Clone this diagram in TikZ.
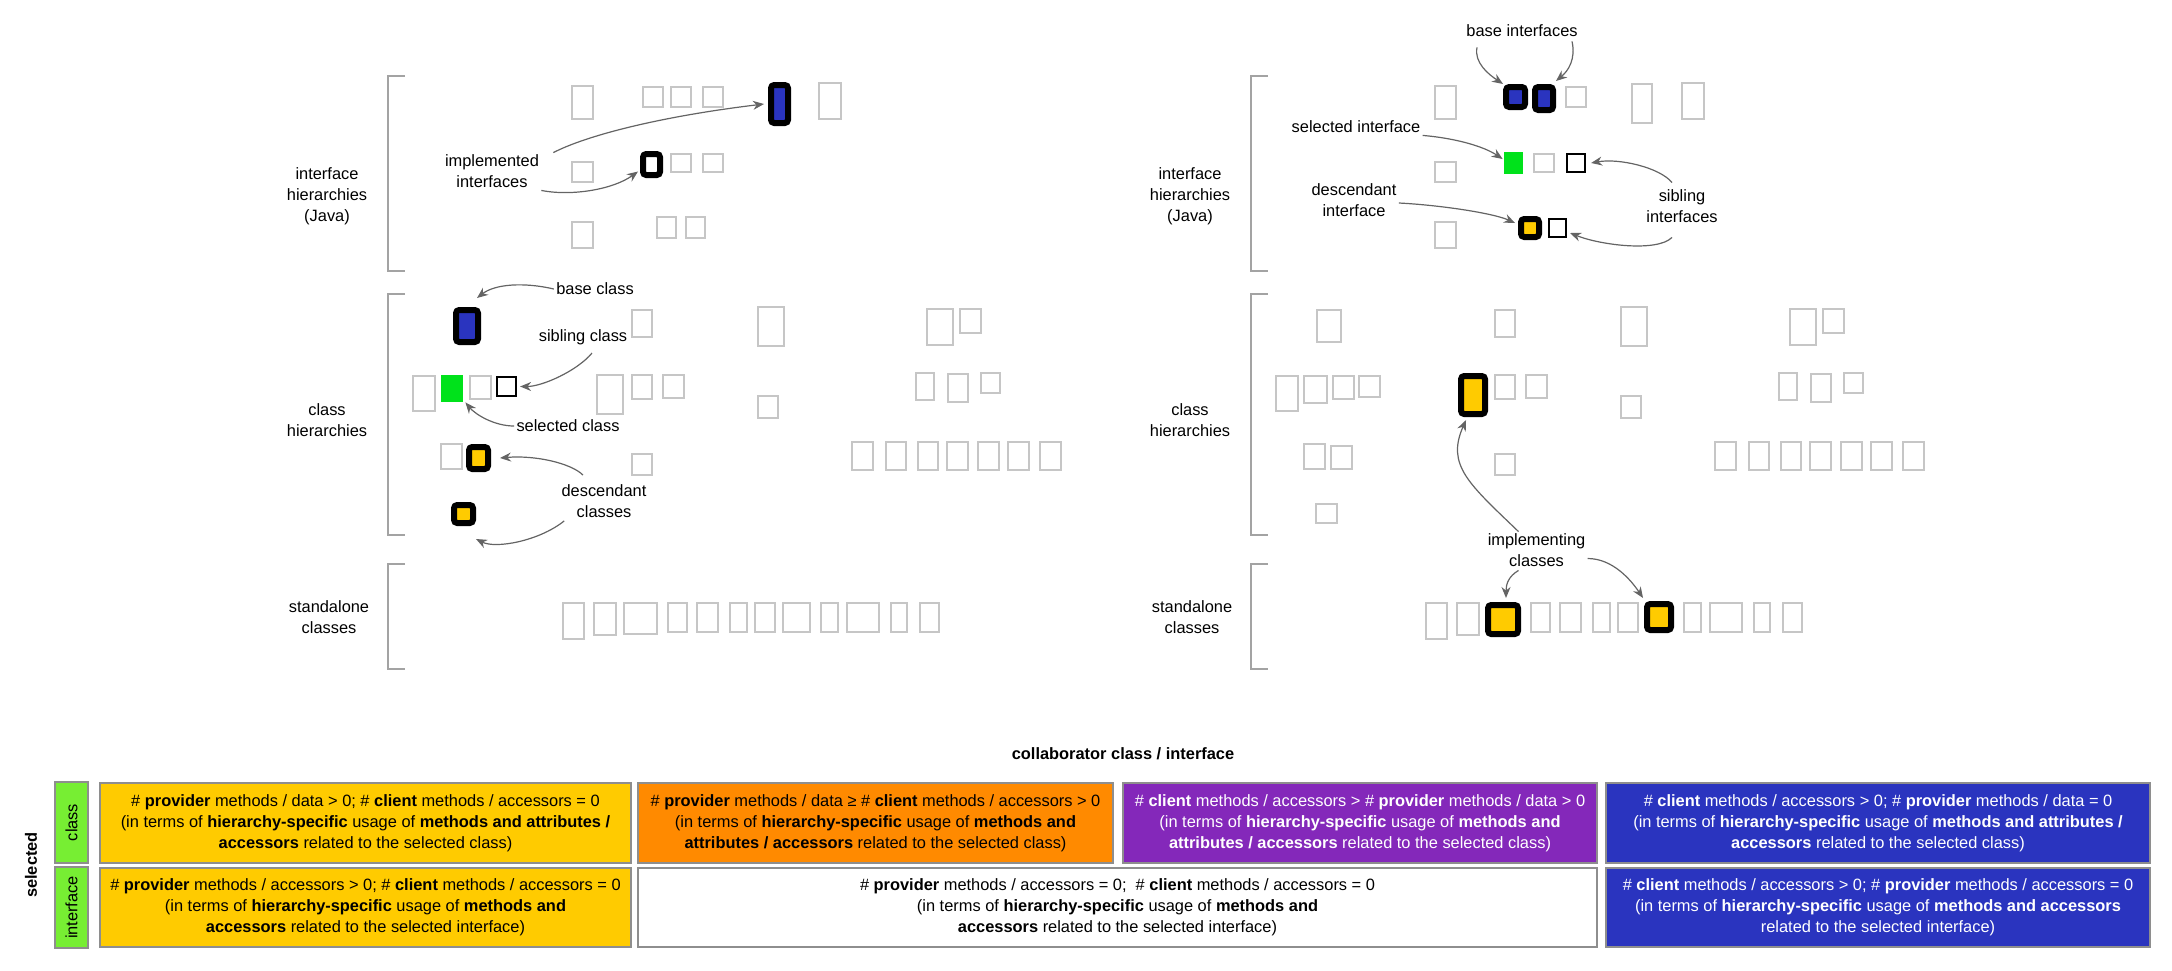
\documentclass[tikz,border=0pt]{standalone}
\usepackage{fontspec}
\setmainfont{Liberation Sans}
\usetikzlibrary{arrows.meta,calc}
\definecolor{boxgray}{HTML}{C6C6C6}
\definecolor{brackgray}{HTML}{A3A3A3}
\definecolor{arrowgray}{HTML}{646464}
\definecolor{cellline}{HTML}{8E8E8E}
\definecolor{selgreen}{HTML}{00E21B}
\definecolor{labgreen}{HTML}{77EE33}
\definecolor{hiblue}{HTML}{2A34BF}
\definecolor{hiyellow}{HTML}{FFCB00}
\definecolor{hiorange}{HTML}{FF8A00}
\definecolor{hipurple}{HTML}{8428BA}

\tikzset{
  corners/.style n args={4}{at={({(#1+#3)/2},{(#2+#4)/2})},
    minimum width={(#3-#1)*0.5pt},minimum height={(#4-#2)*0.5pt}},
  gbox/.style={draw=boxgray,line width=1.1pt,inner sep=0pt},
  hbox/.style={draw=black,line width=3pt,rounded corners=1.6pt,inner sep=0pt},
  sbox/.style={draw=black,line width=1.1pt,fill=white,inner sep=0pt},
  gsel/.style={fill=selgreen,inner sep=0pt},
  lbl/.style={align=center,inner sep=1pt,font=\fontsize{8.2}{10.5}\selectfont},
  arr/.style={draw=arrowgray,line width=0.6pt,-{Stealth[length=5.5pt,width=4.5pt]}},
  bracket/.style={draw=brackgray,line width=1pt},
  cell/.style={draw=cellline,line width=1.1pt,inner sep=0pt,align=center,
    font=\fontsize{8.2}{10.5}\selectfont}
}

\begin{document}
\begin{tikzpicture}[x=0.5pt,y=-0.5pt]
  \useasboundingbox (0,0) rectangle (2172,970);

  % both panels share brackets, headings and most boxes
  \foreach \dx/\p in {0/l,863/r}{
    \begin{scope}[shift={(\dx,0)}]
      \draw[bracket] (405,76) -- (388,76) -- (388,271) -- (405,271);
      \draw[bracket] (405,294) -- (388,294) -- (388,535) -- (405,535);
      \draw[bracket] (405,564) -- (388,564) -- (388,669) -- (405,669);
      \node[lbl] (\p-ifh) at (327,196) {interface\\hierarchies\\(Java)};
      \node[lbl] (\p-clh) at (327,420) {class\\hierarchies};
      \node[lbl] (\p-sah) at (329,617) {standalone\\classes};
      \foreach \xa/\ya/\xb/\yb [count=\n] in {
          572/86/593/119, 703/87/723/107, 819/83/841/119, 572/162/593/182,
          671/154/691/172, 572/222/593/248,
          413/376/435/411, 470/376/491/399, 441/444/462/469, 632/310/652/337,
          632/375/652/399, 663/375/684/398, 632/454/652/475, 758/307/784/346,
          758/396/778/418, 927/309/953/345, 960/309/981/333, 916/373/934/400,
          948/374/968/402, 981/373/1000/393,
          852/442/873/470, 886/442/906/470, 918/442/938/470, 947/442/968/470,
          978/442/999/470, 1008/442/1029/470, 1040/442/1061/470,
          563/603/584/639, 594/603/616/635, 668/603/687/632, 697/603/718/632,
          730/603/747/632, 755/603/775/632, 821/603/838/632, 847/603/879/632,
          891/603/907/632, 920/603/939/632}
        \node[gbox,corners={\xa}{\ya}{\xb}{\yb}] (\p-g\n) {};
    \end{scope}
  }

  % left panel: selected class
  \foreach \xa/\ya/\xb/\yb [count=\n] in {
      643/87/663/107, 671/87/691/107, 703/154/723/172, 657/217/676/238,
      686/217/705/238, 597/375/623/414, 624/603/657/634, 783/603/810/632}
    \node[gbox,corners={\xa}{\ya}{\xb}{\yb}] (l-h\n) {};
  \node[hbox,fill=hiblue,corners={771}{85}{788}{123}] (implA) {};
  \node[hbox,fill=white,corners={643}{154}{660}{175}] (implB) {};
  \node[hbox,fill=hiblue,corners={456}{310}{478}{342}] (basecls) {};
  \node[gsel,corners={441}{375}{463}{402}] (selcls) {};
  \node[sbox,corners={497}{377}{516}{396}] (sibcls) {};
  \node[hbox,fill=hiyellow,corners={469}{447}{488}{469}] (desccA) {};
  \node[hbox,fill=hiyellow,corners={454}{505}{473}{523}] (desccB) {};

  \node[lbl] (limpl) at (492,171.5) {implemented\\interfaces};
  \node[lbl] (lbase) at (595,289) {base class};
  \node[lbl] (lsib) at (583,337) {sibling class};
  \node[lbl] (lsel) at (568,426) {selected class};
  \node[lbl] (ldesc) at (604,501) {descendant\\classes};

  \draw[arr] ($(limpl.north east)+(12,0)$) .. controls +(35,-18) and +(-100,12) .. ($(implA.west)+(-4,0)$);
  \draw[arr] (limpl.south east) .. controls +(30,6) and +(-25,18) .. ($(implB.west)+(-2,7)$);
  \draw[arr] (lbase.west) .. controls +(-30,-7) and +(18,-14) .. ($(basecls.north east)+(-4,-9)$);
  \draw[arr] ($(lsib.south)+(9,6)$) .. controls +(-15,18) and +(22,0) .. ($(sibcls.east)+(3,0)$);
  \draw[arr] (lsel.west) .. controls +(-20,0) and +(10,12) .. ($(selcls.south east)+(2,0)$);
  \draw[arr] ($(ldesc.north)+(-21,-7)$) .. controls +(-12,-12) and +(35,-3) .. ($(desccA.east)+(9,0)$);
  \draw[arr] ($(ldesc.south west)+(5,1)$) .. controls +(-25,20) and +(20,10) .. ($(desccB.south east)+(0,13)$);

  % right panel: selected interface
  \begin{scope}[shift={(863,0)}]
    \foreach \xa/\ya/\xb/\yb [count=\n] in {
        769/84/789/123, 454/310/478/342, 441/376/464/403, 496/376/517/397,
        468/446/489/469, 453/504/474/523}
      \node[gbox,corners={\xa}{\ya}{\xb}{\yb}] (r-h\n) {};
    \node[hbox,fill=hiblue,corners={643}{87}{662}{107}] (baseifA) {};
    \node[hbox,fill=hiblue,corners={672}{87}{690}{110}] (baseifB) {};
    \node[gsel,corners={641}{152}{660}{174}] (selif) {};
    \node[sbox,corners={704}{154}{722}{172}] (sibifA) {};
    \node[hbox,fill=hiyellow,corners={658}{219}{676}{237}] (descif) {};
    \node[sbox,corners={686}{219}{703}{237}] (sibifB) {};
    \node[hbox,fill=hiyellow,corners={598}{376}{622}{414}] (implclsA) {};
    \node[hbox,fill=hiyellow,corners={625}{605}{655}{634}] (implclsB) {};
    \node[hbox,fill=hiyellow,corners={784}{604}{808}{630}] (implclsC) {};

    \node[lbl] (lbaseif) at (659,31) {base interfaces};
    \node[lbl] (lselif) at (493,127) {selected interface};
    \node[lbl] (ldescif) at (491,200) {descendant\\interface};
    \node[lbl] (lsibif) at (819,206.5) {sibling\\interfaces};
    \node[lbl] (limplcls) at (673.5,550.5) {implementing\\classes};

    \draw[arr] ($(lbaseif.south west)+(13,8)$) .. controls +(-3,15) and +(-15,-10) .. (baseifA.north west);
    \draw[arr] ($(lbaseif.south east)+(-8,2)$) .. controls +(4,18) and +(12,-10) .. ($(baseifB.north east)+(0,-3)$);
    \draw[arr] (lselif.south east) .. controls +(35,3) and +(-18,-12) .. ($(selif.west)+(-1,-4)$);
    \draw[arr] ($(ldescif.east)+(0,3)$) .. controls +(40,2) and +(-22,-10) .. ($(descif.west)+(-3,-5)$);
    \draw[arr] ($(lsibif.north)+(-10,-5)$) .. controls +(-12,-15) and +(28,-5) .. ($(sibifA.east)+(5,0)$);
    \draw[arr] ($(lsibif.south)+(-10,12)$) .. controls +(-15,15) and +(30,12) .. ($(sibifB.east)+(3,5)$);
    \draw[arr] ($(limplcls.north)+(-18,0)$) .. controls +(-50,-48) and +(-20,45) .. ($(implclsA.south)+(-7,3)$);
    \draw[arr] ($(limplcls.south)+(-18,1)$) .. controls +(-10,6) and +(0,-14) .. ($(implclsB.north)+(3,-4)$);
    \draw[arr] ($(limplcls.east)+(0,8)$) .. controls +(25,0) and +(-12,-18) .. ($(implclsC.north west)+(-1,-3)$);
  \end{scope}

  % legend table
  \node[lbl] (colhead) at (1123,754) {\bfseries collaborator class / interface};
  \node[lbl,rotate=90] (selhead) at (31,865) {\bfseries selected};
  \node[cell,fill=labgreen,rotate=90,minimum width=40.5pt,minimum height=16.5pt] (rowcls) at (71.5,822.5) {class};
  \node[cell,fill=labgreen,rotate=90,minimum width=40.5pt,minimum height=16.5pt] (rowif) at (71.5,907.5) {interface};
  \node[cell,fill=hiyellow,corners={100}{783}{631}{863}] (cls-y)
    {\# \textbf{provider} methods / data > 0; \# \textbf{client} methods / accessors = 0\\
     (in terms of \textbf{hierarchy-specific} usage of \textbf{methods and attributes /}\\
     \textbf{accessors} related to the selected class)};
  \node[cell,fill=hiorange,corners={638}{783}{1113}{863}] (cls-o)
    {\# \textbf{provider} methods / data ≥ \# \textbf{client} methods / accessors > 0\\
     (in terms of \textbf{hierarchy-specific} usage of \textbf{methods and}\\
     \textbf{attributes / accessors} related to the selected class)};
  \node[cell,fill=hipurple,text=white,corners={1123}{783}{1597}{863}] (cls-p)
    {\# \textbf{client} methods / accessors > \# \textbf{provider} methods / data > 0\\
     (in terms of \textbf{hierarchy-specific} usage of \textbf{methods and}\\
     \textbf{attributes / accessors} related to the selected class)};
  \node[cell,fill=hiblue,text=white,corners={1606}{783}{2150}{863}] (cls-b)
    {\# \textbf{client} methods / accessors > 0; \# \textbf{provider} methods / data = 0\\
     (in terms of \textbf{hierarchy-specific} usage of \textbf{methods and attributes /}\\
     \textbf{accessors} related to the selected class)};
  \node[cell,fill=hiyellow,corners={100}{868}{631}{947}] (if-y)
    {\# \textbf{provider} methods / accessors > 0; \# \textbf{client} methods / accessors = 0\\
     (in terms of \textbf{hierarchy-specific} usage of \textbf{methods and}\\
     \textbf{accessors} related to the selected interface)};
  \node[cell,fill=white,corners={638}{868}{1597}{947}] (if-w)
    {\# \textbf{provider} methods / accessors = 0;~~\# \textbf{client} methods / accessors = 0\\
     (in terms of \textbf{hierarchy-specific} usage of \textbf{methods and}\\
     \textbf{accessors} related to the selected interface)};
  \node[cell,fill=hiblue,text=white,corners={1606}{868}{2150}{947}] (if-b)
    {\# \textbf{client} methods / accessors > 0; \# \textbf{provider} methods / accessors = 0\\
     (in terms of \textbf{hierarchy-specific} usage of \textbf{methods and accessors}\\
     related to the selected interface)};
\end{tikzpicture}
\end{document}
